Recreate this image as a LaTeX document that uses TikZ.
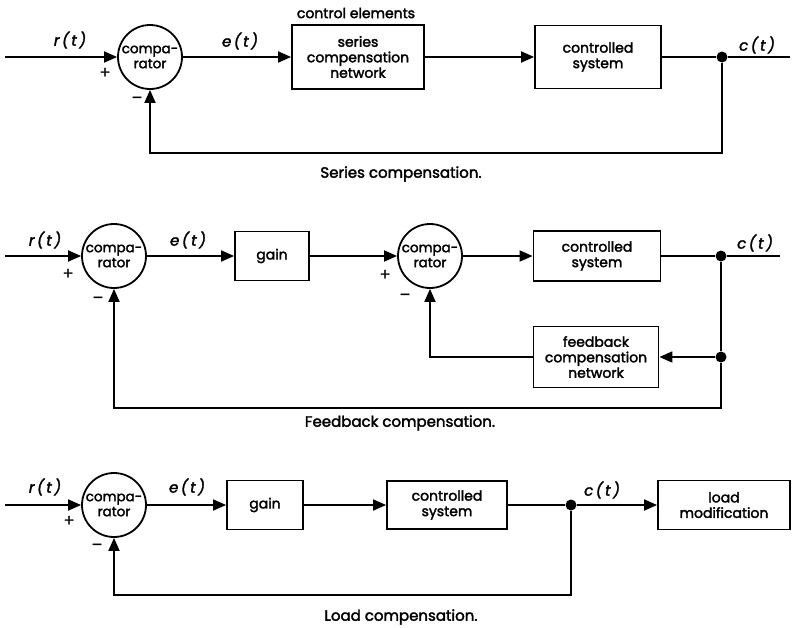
\documentclass[tikz,border=0pt]{standalone}
\usepackage{fontspec}
\setmainfont{Poppins}[FakeBold=2.2,AutoFakeBold=2.2]
\usetikzlibrary{arrows.meta}
\begin{document}
\begin{tikzpicture}[x=1pt,y=-1pt,
  line width=1.8pt,
  every node/.style={font=\fontsize{14}{15.5}\selectfont\bfseries},
  blk/.style={draw,rectangle,align=center,inner sep=0pt},
  cmp/.style={draw,circle,minimum size=64pt,inner sep=0pt,align=center,font=\fontsize{13.5}{15}\selectfont\bfseries},
  dot/.style={circle,fill,inner sep=0pt,minimum size=11pt},
  arr/.style={-{Triangle[length=13pt,width=11pt]}},
  lbl/.style={font=\fontsize{15}{16}\selectfont\bfseries\itshape},
  sgn/.style={font=\fontsize{16}{16}\selectfont\bfseries},
  captext/.style={font=\fontsize{15}{16}\selectfont\bfseries}]
\useasboundingbox (0,0) rectangle (793,627);
% ---------- Series compensation ----------
\coordinate (in1) at (5,57);
\node[cmp] (c1) at (150,57) {compa-\\rator};
\node[blk,minimum width=132pt,minimum height=64pt] (ser) at (358,57) {series\\compensation\\network};
\node[blk,minimum width=126pt,minimum height=63pt] (cs1) at (598,57) {controlled\\system};
\node[dot] (d1) at (722,57) {};
\coordinate (out1) at (790,57);
\coordinate (fb1) at (722,153);
\draw[arr] (in1) -- (c1);
\draw[arr] (c1) -- (ser);
\draw[arr] (ser) -- (cs1);
\draw (cs1) -- (d1) -- (out1);
\draw[arr] (d1) -- (fb1) -| (c1.south);
\node[lbl] (r1) at (70,40) {r\,(\,t\,)};
\node[sgn] (p1) at (105,73) {+};
\node[sgn] (m1) at (137,100) {–};
\node[lbl] (e1) at (240,41) {e\,(\,t\,)};
\node[lbl] (o1) at (757,45) {c\,(\,t\,)};
\node (ce) at (356,13) {control elements};
\node[captext] (cap1) at (401,174) {Series compensation.};
% ---------- Feedback compensation ----------
\coordinate (in2) at (5,256);
\node[cmp] (c2a) at (114,256) {compa-\\rator};
\node[blk,minimum width=74pt,minimum height=49pt] (g2) at (272,256) {gain};
\node[cmp] (c2b) at (430,256) {compa-\\rator};
\node[blk,minimum width=127pt,minimum height=50pt] (cs2) at (597,256) {controlled\\system};
\node[dot] (d2a) at (721,256) {};
\coordinate (out2) at (780,256);
\node[blk,minimum width=125pt,minimum height=61pt] (fbc) at (596,357) {feedback\\compensation\\network};
\node[dot] (d2b) at (721,357) {};
\coordinate (fb2) at (721,408);
\draw[arr] (in2) -- (c2a);
\draw[arr] (c2a) -- (g2);
\draw[arr] (g2) -- (c2b);
\draw[arr] (c2b) -- (cs2);
\draw (cs2) -- (d2a) -- (out2);
\draw (d2a) -- (d2b);
\draw[arr] (d2b) -- (fbc);
\draw[arr] (fbc.west) -| (c2b.south);
\draw[arr] (d2b) -- (fb2) -| (c2a.south);
\node[lbl] (r2) at (45,240) {r\,(\,t\,)};
\node[sgn] (p2a) at (68,274) {+};
\node[sgn] (m2a) at (98,300) {–};
\node[lbl] (e2) at (188,240) {e\,(\,t\,)};
\node[sgn] (p2b) at (385,275) {+};
\node[sgn] (m2b) at (405,297) {–};
\node[lbl] (o2) at (755,243) {c\,(\,t\,)};
\node[captext] (cap2) at (400,423) {Feedback compensation.};
% ---------- Load compensation ----------
\coordinate (in3) at (5,505);
\node[cmp] (c3) at (114,505) {compa-\\rator};
\node[blk,minimum width=76pt,minimum height=49pt] (g3) at (265,505) {gain};
\node[blk,minimum width=120pt,minimum height=48pt] (cs3) at (447,505) {controlled\\system};
\node[dot] (d3) at (571,505) {};
\node[blk,minimum width=132pt,minimum height=49pt] (lm) at (724,505) {load\\modification};
\coordinate (fb3) at (571,595);
\draw[arr] (in3) -- (c3);
\draw[arr] (c3) -- (g3);
\draw[arr] (g3) -- (cs3);
\draw (cs3) -- (d3);
\draw[arr] (d3) -- (lm);
\draw[arr] (d3) -- (fb3) -| (c3.south);
\node[lbl] (r3) at (45,487) {r\,(\,t\,)};
\node[sgn] (p3) at (69,521) {+};
\node[sgn] (m3) at (97,547) {–};
\node[lbl] (e3) at (187,487) {e\,(\,t\,)};
\node[lbl] (o3) at (602,490) {c\,(\,t\,)};
\node[captext] (cap3) at (401,617) {Load compensation.};
\end{tikzpicture}
\end{document}
